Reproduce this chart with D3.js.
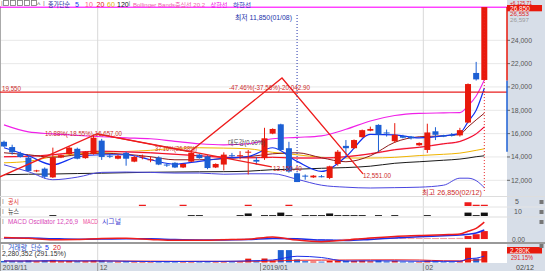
<!DOCTYPE html>
<html>
<head>
<meta charset="utf-8">
<script src="https://cdn.jsdelivr.net/npm/d3@7"></script>
<style>
body{margin:0;background:#fff;}
svg{display:block;font-family:"Liberation Sans","Noto Sans CJK KR",sans-serif;}
</style>
</head>
<body>
<svg id="canvas" width="545" height="271"></svg>
<script>
// daily candles, 2018/11 ~ 2019/02/12
let opens  = [15300,14850,14300,13950,12800,13000,12250,13950,14250,14700,13900,14250,15400,14100,13850,14350,13600,14000,13750,13950,
              13350,13500,13100,13600,14200,14050,13100,13350,14150,14050,14400,13750,13900,16000,16800,14750,12600,12400,12250,12350,
              12200,13400,14950,14750,15700,16250,16750,16100,15350,15800,15750,15000,14600,16200,15850,15900,15850,16950,21200,20600]
let highs  = [15400,15050,14450,14100,12900,13100,14800,14200,14900,14800,14500,15900,15550,14300,14200,14450,14100,14200,14050,14050,
              13450,13550,13450,14600,14250,14150,13450,14400,14350,14500,14600,14000,16500,16450,16850,15300,12650,12500,12450,12450,
              13250,14600,15450,15500,16350,16600,16800,16350,16900,15900,15800,15250,16850,16550,15900,16050,16500,20300,22150,26850]
let lows   = [14850,14200,13950,12750,12700,12150,12200,13900,14200,13800,13850,14200,13750,13900,13800,13250,13550,13800,13550,13300,
              13150,13050,13050,13550,13850,12950,13050,12850,13950,13800,12500,13350,13750,15950,14550,12650,11850,12050,12200,12250,
              12100,13250,14100,14700,15650,16200,14450,15750,15200,15600,15500,14950,14350,15450,15700,15750,15750,16900,20550,20550]
let closes = [14900,14400,14000,12800,12850,12300,13950,14150,14800,13850,14450,15650,14000,14050,14100,13850,14000,14050,13800,13350,
              13300,13100,13400,14350,13900,13050,13400,14200,14100,14150,14450,13600,15600,16400,14600,12750,11850,12350,12400,12300,
              13200,14450,14750,15450,16300,16400,15900,16050,15900,15650,15600,15200,16100,15900,15750,15850,16300,20250,20650,26850]
// volume, thousand shares
let volumes = [310,280,260,420,240,380,520,260,300,270,250,430,390,200,180,260,210,150,140,230,
               180,170,160,280,190,300,170,260,180,210,770,250,800,420,2480,2480,620,260,200,170,
               330,420,350,310,380,250,420,220,330,180,160,150,380,260,170,150,250,2960,783,2280]

let tickIdx = [0, 12, 32, 52]
let tickLabels = ['2018/11', '12', '2019/01', '02']
let gridIdx = [12, 52]
let priceTicks = [12000, 14000, 16000, 18000, 20000, 22000, 24000]
let priceLabels = ['12,000', '14,000', '16,000', '18,000', '20,000', '22,000', '24,000']

// indicator lines, read at these candle indices
let lineIdx  = [0,3,6,9,12,15,18,21,24,27,30,33,36,39,42,45,48,51,54,56,57,58,59]
let ma5      = [14790,14100,13330,14020,14190,14190,13760,13380,13630,13890,14040,14790,13620,12760,14020,15940,15900,15640,15810,16040,17010,18000,19890]
let ma10     = [14360,14190,13970,14190,14320,14230,14020,13760,13760,13850,14020,14270,14360,13930,13590,14100,15260,15730,15810,15940,16580,17180,17750]
let ma20     = [14020,14060,14190,14400,14490,14440,14360,14230,14100,13970,13930,13970,13910,13910,14020,14270,14620,14830,15130,15330,15600,15980,16580]
let ma60     = [13500,13630,14020,14270,14400,14470,14570,14740,14790,14760,14700,14400,14190,13970,13910,13910,13970,14120,14230,14330,14440,14570,14700]
let ma120    = [12480,12520,12540,12580,12610,12650,12690,12710,12730,12740,12780,12910,12950,13030,13090,13210,13460,13590,13720,13820,13910,14020,14100]
let bbUpper  = [16750,16150,15980,15850,15730,15640,15560,15340,15130,15040,15130,15560,15680,15810,16370,17090,17560,17740,17780,17800,18380,19230,20600]
let bbLower  = [13330,12740,12050,12270,12680,12710,12680,12620,12620,12520,12560,12560,12090,11580,11410,11340,11370,11410,11580,12180,12180,11970,11370]
let volMa5   = [320,300,360,330,330,250,190,190,220,230,330,500,1250,1000,300,340,320,250,230,230,760,870,1280]
let volMa20  = [300,300,300,300,300,290,270,250,240,230,250,300,450,480,500,520,530,500,350,330,460,480,570]
let macdLine = [90,40,-40,-30,30,40,-20,-70,-70,-40,-10,120,-60,-150,-60,60,150,200,250,290,450,620,980]
let signalLine = [60,60,20,-10,0,20,10,-30,-50,-50,-30,30,20,-60,-80,-20,60,130,190,230,280,350,520]
let macdOsc  = [30,20,10,-10,-30,-50,-60,-40,-20,-10,0,20,30,40,30,20,10,-10,-20,-30,
                -40,-40,-30,-20,-20,-10,0,10,10,20,20,40,70,90,60,-20,-60,-80,-90,-80,
                -50,-20,10,40,60,80,90,90,80,70,70,60,60,60,60,60,70,180,280,460]

// disclosure / news counts
let gongsiIdx = [17, 22, 30, 35, 57, 58, 59]
let gongsiCnt = [1, 1, 1, 1, 3, 1, 1]
let newsIdx = [6,23,24,29,30,32,33,34,35,37,38,39,40,41,42,43,44,46,48,52,57,58,59]
let newsCnt = [1,1,1,1,3,1,1,4,1,1,1,1,3,1,1,1,1,1,1,1,4,1,4]

// zigzag and trend line
let zzIdx = [-0.5, 11.4, 22.85, 34.15, 44.1]
let zzPrice = [12300, 15980, 14440, 20770, 12551]
let trendIdx = [11.4, 32.9]
let trendPrice = [15980, 13150.4]
let supportPrice = 19550
let lowIdx = 36
let highIdx = 59
let axisBar = [14450, 20550, 26850]

let canvas = d3.select('#canvas')

let x = d3.scaleLinear().domain([0, 59]).range([4, 484.3])
let y = d3.scaleLinear().domain([12000, 24000]).range([180.3, 40.3])
let yVol = d3.scaleLinear().domain([0, 3000]).range([262.5, 247.5])
let yMacd = d3.scaleLinear().domain([-200, 1100]).range([242.5, 220])
let yGong = d3.scaleLinear().domain([0, 6]).range([206, 198.5])
let yNews = d3.scaleLinear().domain([0, 10]).range([216, 207.5])

let upColor = '#e8190c'
let downColor = '#1c5fd4'

let txt = (g, s, tx, ty, fill, size, len, anchor) => {
    let t = g.append('text')
        .attr('x', tx).attr('y', ty)
        .attr('fill', fill || '#333')
        .style('font-size', (size || 7) + 'px')
        .text(s)
    if (len) t.attr('textLength', len).attr('lengthAdjust', 'spacingAndGlyphs')
    if (anchor) t.attr('text-anchor', anchor)
    return t
}

// backgrounds
canvas.append('rect').attr('x', 0).attr('y', 0).attr('width', 545).attr('height', 271).attr('fill', '#fff')
canvas.append('rect').attr('x', 507).attr('y', 0).attr('width', 38).attr('height', 271).attr('fill', '#d7dee8')
canvas.append('rect').attr('x', 0).attr('y', 263).attr('width', 545).attr('height', 8).attr('fill', '#d7dee8')
canvas.append('line').attr('x1', 0.5).attr('x2', 0.5).attr('y1', 0).attr('y2', 263).attr('stroke', '#aaa')

// grid
let grid = canvas.append('g')
priceTicks.forEach((p) => {
    grid.append('line').attr('x1', 1).attr('x2', 507).attr('y1', y(p)).attr('y2', y(p))
        .attr('stroke', '#e8e8e8')
})
gridIdx.forEach((i) => {
    grid.append('line').attr('x1', x(i) - 4).attr('x2', x(i) - 4).attr('y1', 8).attr('y2', 263)
        .attr('stroke', '#d8d8d8')
})

// panel separators
let seps = [[196.5, '#ddd', 1], [207, '#e4e4e4', 1], [217, '#ddd', 1], [243, '#999', 2]]
seps.forEach((s) => {
    canvas.append('line').attr('x1', 0).attr('x2', 545).attr('y1', s[0]).attr('y2', s[0])
        .attr('stroke', s[1]).attr('stroke-width', s[2])
})

// main panel
canvas.append('clipPath').attr('id', 'mainClip').append('rect')
    .attr('x', 0).attr('y', 6).attr('width', 507).attr('height', 190)
let main = canvas.append('g').attr('clip-path', 'url(#mainClip)')

let pts = (vals) => lineIdx.map((i, k) => [i, vals[k]])
let priceLine = d3.line().x((d) => x(d[0])).y((d) => y(d[1])).curve(d3.curveMonotoneX)

let maDefs = [
    [ma120, '#1a1a1a', 1],
    [ma60, '#f0b400', 1],
    [ma20, '#ff8ccc', 1.6],
    [ma20, '#ee1111', 1],
    [ma10, '#8b1a1a', 1],
    [bbLower, '#4a46e0', 1],
    [bbUpper, '#f020e8', 1.1],
    [ma5, '#1030f0', 1.2]
]
maDefs.forEach((m) => {
    main.append('path').attr('d', priceLine(pts(m[0])))
        .attr('fill', 'none').attr('stroke', m[1]).attr('stroke-width', m[2])
})

// reference lines
main.append('line').attr('x1', 0).attr('x2', 507).attr('y1', y(supportPrice)).attr('y2', y(supportPrice))
    .attr('stroke', '#e82020').attr('stroke-width', 1.2)
main.append('line').attr('x1', 0).attr('x2', 507).attr('y1', y(closes[59])).attr('y2', y(closes[59]))
    .attr('stroke', '#ff00ff').attr('stroke-width', 1.2)

// candles
let candles = main.selectAll('g.candle').data(d3.range(opens.length)).enter().append('g')
candles.append('line')
    .attr('x1', (i) => x(i)).attr('x2', (i) => x(i))
    .attr('y1', (i) => y(highs[i])).attr('y2', (i) => y(lows[i]))
    .attr('stroke', (i) => closes[i] >= opens[i] ? upColor : downColor)
candles.append('rect')
    .attr('x', (i) => x(i) - 3)
    .attr('width', 6)
    .attr('y', (i) => y(Math.max(opens[i], closes[i])))
    .attr('height', (i) => Math.max(1, Math.abs(y(opens[i]) - y(closes[i]))))
    .attr('fill', (i) => closes[i] >= opens[i] ? upColor : downColor)

// zigzag
let zzLine = d3.line().x((d) => x(d[0])).y((d) => y(d[1]))
main.append('path').attr('d', zzLine(zzIdx.map((i, k) => [i, zzPrice[k]])))
    .attr('fill', 'none').attr('stroke', '#ee1c1c').attr('stroke-width', 1.3)
main.append('path').attr('d', zzLine(trendIdx.map((i, k) => [i, trendPrice[k]])))
    .attr('fill', 'none').attr('stroke', '#ee1c1c').attr('stroke-width', 1.3)

// low / high markers
canvas.append('line').attr('x1', x(lowIdx)).attr('x2', x(lowIdx)).attr('y1', 15).attr('y2', y(highs[lowIdx]))
    .attr('stroke', '#2233aa').attr('stroke-dasharray', '1,2')
canvas.append('line').attr('x1', x(highIdx)).attr('x2', x(highIdx)).attr('y1', y(highs[highIdx])).attr('y2', 191)
    .attr('stroke', '#e82020').attr('stroke-dasharray', '1,2')

// annotations
let ann = canvas.append('g')
txt(ann, '최저 11,850(01/08)', 235, 19.5, '#2233aa', 7, 57)
txt(ann, '-47.46%(-37.56%)-20,042.90', 229, 89.5, '#cc2a2a', 7, 81)
txt(ann, '10.88%(-18.55%)-16,657.00', 45, 135.5, '#cc2a2a', 7, 77)
txt(ann, '37.16%(26.88%)', 155, 150.5, '#cc2a2a', 7, 42)
txt(ann, '대도강(0.00%)', 228, 144.5, '#444', 7, 37)
txt(ann, '13,150.40', 273, 171, '#cc2a2a', 7, 29)
txt(ann, '12,551.00', 363, 177.5, '#cc2a2a', 7, 28)
txt(ann, '최고 26,850(02/12)', 422, 194.5, '#cc2a2a', 7, 60)
txt(ann, '19,550', 2, 91, '#cc2a2a', 7, 19)

// top legend
let leg = canvas.append('g')
leg.append('rect').attr('x', 0).attr('y', 0).attr('width', 507).attr('height', 6.3).attr('fill', '#fff')
let iconX = [3, 10, 17, 24, 31]
iconX.forEach((ix) => {
    leg.append('rect').attr('x', ix + 0.5).attr('y', 0.5).attr('width', 5).attr('height', 5)
        .attr('fill', '#fff').attr('stroke', '#777').attr('stroke-width', 0.8)
})
txt(leg, 'I', 1, 6, '#888', 6.5)
txt(leg, '^', 37, 7, '#555', 7)
txt(leg, 'I', 43, 6, '#888', 6.5)
txt(leg, '종가단순', 48, 6.5, '#1a2a9c', 6.5, 22)
txt(leg, '5', 75, 6.5, '#1030f0', 7)
txt(leg, '10', 85, 6.5, '#ff5a86', 7)
txt(leg, '20', 96.5, 6.5, '#dd1111', 7)
txt(leg, '60', 107, 6.5, '#e0b400', 7)
txt(leg, '120', 117, 6.5, '#111', 7)
txt(leg, 'I', 128.5, 6, '#888', 6.5)
txt(leg, 'Bollinger Bands중심선 20,2', 133, 6.5, '#ee5aa8', 6, 72)
txt(leg, '상한선', 210.5, 6.5, '#ee10e0', 6, 17)
txt(leg, '하한선', 233, 6.5, '#2030b8', 6, 18)

// right price axis
let ax = canvas.append('g')
priceTicks.forEach((p, k) => {
    ax.append('line').attr('x1', 507).attr('x2', 510).attr('y1', y(p)).attr('y2', y(p)).attr('stroke', '#666')
    txt(ax, priceLabels[k], 511, y(p) + 2.5, '#555', 7, 21)
})
ax.append('line').attr('x1', 507).attr('x2', 507).attr('y1', y(axisBar[1])).attr('y2', y(axisBar[0]))
    .attr('stroke', '#1c5fd4').attr('stroke-width', 1.5)
ax.append('line').attr('x1', 507).attr('x2', 507).attr('y1', y(axisBar[2])).attr('y2', y(axisBar[1]))
    .attr('stroke', '#e8190c').attr('stroke-width', 1.5)
txt(ax, '+6,125.71', 510, 4.6, '#e02020', 5, 22)
ax.append('rect').attr('x', 507).attr('y', 5).attr('width', 35).attr('height', 6.3).attr('fill', '#e8190c')
txt(ax, '26,850', 510, 10.5, '#fff', 6.5, 20)
txt(ax, '26,553', 510, 16, '#e02020', 5.5, 19)
txt(ax, '26,597', 510, 22, '#999', 5.5, 19)

// disclosure / news panels
let sub = canvas.append('g')
txt(sub, 'I', 2, 203.5, '#888', 6.5)
txt(sub, '공시', 8, 204, '#e03030', 7, 11)
txt(sub, 'I', 2, 213.5, '#888', 6.5)
txt(sub, '뉴스', 8, 214, '#333', 7, 11)
gongsiIdx.forEach((i, k) => {
    sub.append('rect').attr('x', x(i) - 3.5).attr('width', 7)
        .attr('y', yGong(gongsiCnt[k])).attr('height', yGong(0) - yGong(gongsiCnt[k]))
        .attr('fill', '#ee1c1c')
})
newsIdx.forEach((i, k) => {
    sub.append('rect').attr('x', x(i) - 3.5).attr('width', 7)
        .attr('y', yNews(newsCnt[k])).attr('height', yNews(0) - yNews(newsCnt[k]))
        .attr('fill', '#111')
})
txt(sub, '5', 515, 203.5, '#555', 7)
txt(sub, '10', 514, 214, '#555', 7)

// MACD panel
let macdG = canvas.append('g')
macdOsc.forEach((v, i) => {
    let col = Math.abs(v) > 150 ? '#ee1c1c' : (v >= 0 ? '#f6a0a0' : '#a8b8f0')
    macdG.append('rect').attr('x', x(i) - 3.5).attr('width', 7)
        .attr('y', yMacd(Math.max(0, v))).attr('height', Math.abs(yMacd(v) - yMacd(0)))
        .attr('fill', col)
})
let macdPath = d3.line().x((d) => x(d[0])).y((d) => yMacd(d[1])).curve(d3.curveMonotoneX)
macdG.append('path').attr('d', macdPath(pts(signalLine)))
    .attr('fill', 'none').attr('stroke', '#1c2ee8').attr('stroke-width', 1.5)
macdG.append('path').attr('d', macdPath(pts(macdLine)))
    .attr('fill', 'none').attr('stroke', '#ee1c1c').attr('stroke-width', 1.5)
txt(macdG, 'I', 2, 223.5, '#888', 6.5)
txt(macdG, 'MACD Oscillator 12,26,9', 8, 224, '#d848b8', 7, 70)
txt(macdG, 'MACD', 83, 224, '#ee4a9a', 7, 15)
txt(macdG, '시그널', 102, 224, '#4040d0', 7, 19)
txt(macdG, '0.00', 512, 241.5, '#555', 7, 13)

// volume panel
let volG = canvas.append('g')
volG.selectAll('rect.vol').data(volumes).enter().append('rect')
    .attr('x', (d, i) => x(i) - 3).attr('width', 6)
    .attr('y', (d) => yVol(d)).attr('height', (d) => yVol(0) - yVol(d))
    .attr('fill', (d, i) => closes[i] >= opens[i] ? upColor : downColor)
let volPath = d3.line().x((d) => x(d[0])).y((d) => yVol(d[1])).curve(d3.curveMonotoneX)
volG.append('path').attr('d', volPath(pts(volMa20)))
    .attr('fill', 'none').attr('stroke', '#ee1c1c').attr('stroke-width', 1)
volG.append('path').attr('d', volPath(pts(volMa5)))
    .attr('fill', 'none').attr('stroke', '#1c2ee8').attr('stroke-width', 1)
txt(volG, 'I', 2, 249.5, '#888', 6.5)
txt(volG, '거래량', 8, 249.5, '#2850c8', 7, 19)
txt(volG, '단순', 31, 249.5, '#2850c8', 7, 11)
txt(volG, '5', 45, 249.5, '#1030f0', 7)
txt(volG, '20', 53, 249.5, '#dd1111', 7)
txt(volG, '2,280,352 (291.15%)', 2, 256, '#333', 7, 64)
volG.append('rect').attr('x', 507).attr('y', 247).attr('width', 35).attr('height', 6.5).attr('fill', '#e8190c')
txt(volG, '2,280K', 510, 252.7, '#fff', 7, 20)
txt(volG, '291.15%', 511, 259.5, '#e02020', 7, 22)

// panel handles on the right
let handleY = [200, 210, 220, 244]
handleY.forEach((hy) => {
    canvas.append('rect').attr('x', 539.5).attr('y', hy).attr('width', 4).attr('height', 4)
        .attr('fill', '#777')
})

// bottom date axis
let xa = canvas.append('g')
tickIdx.forEach((i, k) => {
    let tx = Math.max(0.5, x(i) - 4)
    xa.append('line').attr('x1', tx).attr('x2', tx).attr('y1', 263).attr('y2', 271).attr('stroke', '#999')
    txt(xa, tickLabels[k], tx + 2, 269.5, '#555', 7)
})
txt(xa, '02/12', 516, 269.5, '#444', 7, 18)
</script>
</body>
</html>
